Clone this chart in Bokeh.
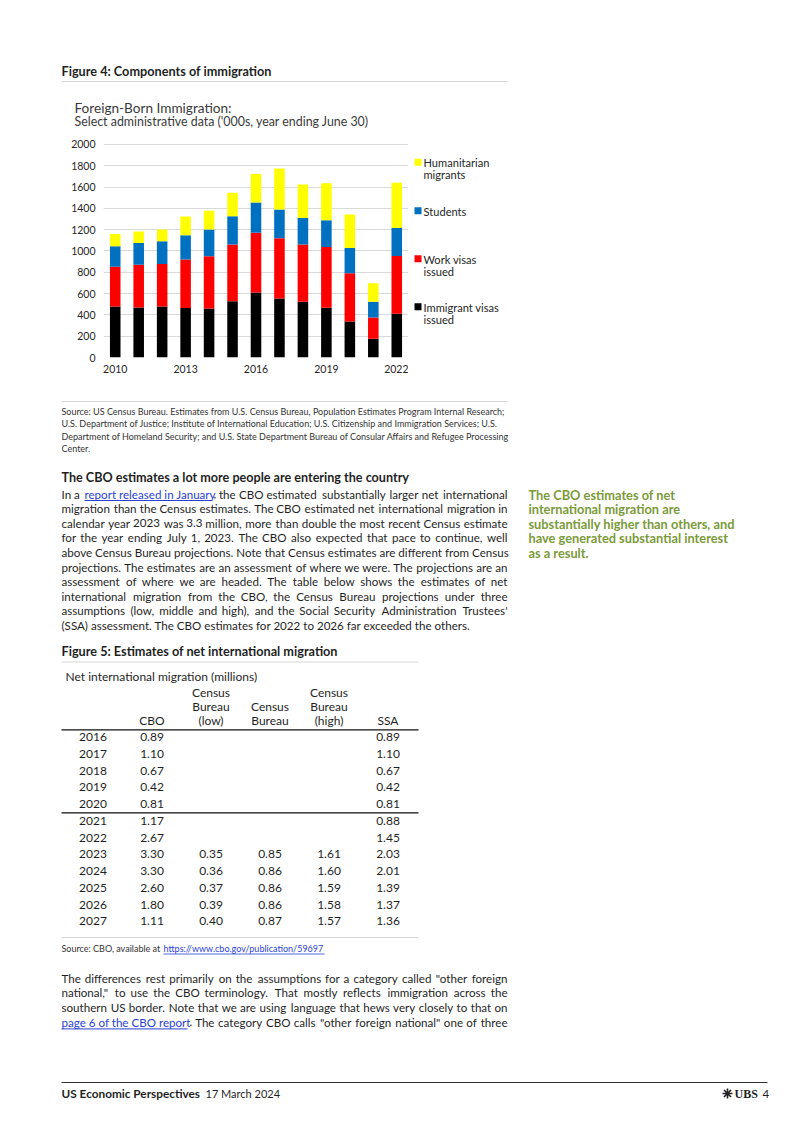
from bokeh.plotting import figure
from bokeh.layouts import column, row
from bokeh.models import Range1d, FixedTicker
from bokeh.core.properties import value
from bokeh.embed import file_html
from bokeh.resources import INLINE

# ---------------- data ----------------
years = [2010, 2011, 2012, 2013, 2014, 2015, 2016, 2017, 2018, 2019, 2020, 2021, 2022]
immigrant_visas = [480, 470, 480, 464, 461, 527, 611, 555, 524, 467, 339, 176, 411]
work_visas = [373, 402, 398, 455, 489, 533, 561, 564, 536, 571, 451, 200, 542]
students = [191, 203, 213, 228, 251, 266, 283, 270, 250, 250, 238, 148, 263]
humanitarian = [116, 107, 110, 176, 178, 220, 269, 385, 314, 348, 314, 172, 424]
series_names = ["Immigrant visas issued", "Work visas issued", "Students", "Humanitarian migrants"]
series_colors = ["#000000", "#FF0000", "#0070C0", "#FFFF00"]
x_ticks = [2010, 2013, 2016, 2019, 2022]
y_ticks = [0, 200, 400, 600, 800, 1000, 1200, 1400, 1600, 1800, 2000]

tbl_years = [2016, 2017, 2018, 2019, 2020, 2021, 2022, 2023, 2024, 2025, 2026, 2027]
tbl_cbo = [0.89, 1.10, 0.67, 0.42, 0.81, 1.17, 2.67, 3.30, 3.30, 2.60, 1.80, 1.11]
tbl_census_low = [None, None, None, None, None, None, None, 0.35, 0.36, 0.37, 0.39, 0.40]
tbl_census = [None, None, None, None, None, None, None, 0.85, 0.86, 0.86, 0.86, 0.87]
tbl_census_high = [None, None, None, None, None, None, None, 1.61, 1.60, 1.59, 1.58, 1.57]
tbl_ssa = [0.89, 1.10, 0.67, 0.42, 0.81, 0.88, 1.45, 2.03, 2.01, 1.39, 1.37, 1.36]
tbl_headers = [["CBO"], ["Census", "Bureau", "(low)"], ["Census", "Bureau"], ["Census", "Bureau", "(high)"], ["SSA"]]

FONT = "Lato"
TXT = "#1f1f1f"
LINK = "#2b3fd6"
GREEN = "#7B9A3A"
LIGHT = "#D6D6D6"
BODY = 11.6

# approximate advance widths (em) used only to spread words of justified lines
_W = {' ': .193, ',': .2, '.': .2, ':': .2, ';': .2, '(': .3, ')': .3, '-': .3, "'": .2, '"': .35}
_W.update(dict(zip("abcdefghijklmnopqrstuvwxyz",
                   [.49, .55, .46, .55, .51, .32, .50, .55, .24, .24, .49, .24, .83, .55, .55, .55, .55,
                    .36, .42, .35, .55, .49, .75, .48, .49, .44])))
_W.update(dict(zip("ABCDEFGHIJKLMNOPQRSTUVWXYZ",
                   [.67, .62, .64, .72, .55, .52, .70, .73, .28, .37, .64, .49, .87, .74, .76, .58, .76,
                    .61, .53, .57, .70, .66, .98, .64, .61, .60])))
_W.update({d: .58 for d in "0123456789"})


def est(s, size):
    return sum(_W.get(c, .5) for c in s) * size * 1.04


def canvas(w, h, x0, x1, y0, y1):
    p = figure(width=w, height=h, x_range=Range1d(x0, x1), y_range=Range1d(y1, y0),
               output_backend="svg", toolbar_location=None, min_border=0,
               x_axis_location=None, y_axis_location=None)
    p.grid.visible = False
    p.outline_line_color = None
    p.background_fill_color = "white"
    p.border_fill_color = "white"
    return p


def txt(p, x, y, s, size, bold=False, color=TXT, align="left", font=FONT):
    p.text(x=[x], y=[y], text=[s], text_font=value(font), text_font_size=value(f"{size}px"),
           text_font_style="bold" if bold else "normal", text_color=color,
           text_align=align, text_baseline="middle")


def justify(p, x0, x1, y, s, size):
    words = s.split(" ")
    ws = [est(w, size) for w in words]
    gap = (x1 - x0 - sum(ws)) / (len(words) - 1)
    if gap < 0.22 * size:
        txt(p, x0, y, s, size)
        return
    half = len(words) // 2
    xs, aligns = [], []
    cur = x0
    for i in range(half):
        xs.append(cur)
        aligns.append("left")
        cur += ws[i] + gap
    right = []
    cur = x1
    for i in range(len(words) - 1, half - 1, -1):
        right.append(cur)
        cur -= ws[i] + gap
    xs += list(reversed(right))
    aligns += ["right"] * (len(words) - half)
    p.text(x=xs, y=[y] * len(words), text=words, text_font=value(FONT),
           text_font_size=value(f"{size}px"), text_color=TXT, text_align=aligns,
           text_baseline="middle")


def hline(p, x0, x1, y, color=LIGHT, width=1):
    p.segment(x0=[x0], y0=[y], x1=[x1], y1=[y], line_color=color, line_width=width)


# ---------------- top block ----------------
top = canvas(786, 136, 0, 786, 0, 136)
txt(top, 61, 70, "Figure 4: Components of immigration", 12.7, bold=True)
hline(top, 61, 507, 81)
txt(top, 74, 107.5, "Foreign-Born Immigration:", 13.6, color="#3a3a3a")
txt(top, 74, 121, "Select administrative data ('000s, year ending June 30)", 12.4, color="#3a3a3a")

# ---------------- chart ----------------
chart = figure(width=408, height=244, x_range=Range1d(2009.5, 2022.5), y_range=Range1d(0, 2075),
               output_backend="svg", toolbar_location=None,
               min_border_left=103, min_border_right=0, min_border_top=0, min_border_bottom=23)
chart.outline_line_color = None
data = dict(year=years)
keys = ["imm", "work", "stud", "hum"]
for k, vals in zip(keys, [immigrant_visas, work_visas, students, humanitarian]):
    data[k] = vals
chart.vbar_stack(keys, x="year", width=0.45, color=series_colors, line_color=None, source=data)
chart.xgrid.visible = False
chart.ygrid.grid_line_color = "#D9D9D9"
chart.ygrid.ticker = FixedTicker(ticks=y_ticks)
chart.xaxis.ticker = FixedTicker(ticks=x_ticks)
chart.yaxis.ticker = FixedTicker(ticks=y_ticks)
for ax in (chart.xaxis, chart.yaxis):
    ax.axis_line_color = None
    ax.major_tick_line_color = None
    ax.minor_tick_line_color = None
    ax.major_tick_out = 0
    ax.major_tick_in = 0
    ax.major_label_text_font = FONT
    ax.major_label_text_font_size = "10.5px"
    ax.major_label_text_color = "#262626"
chart.xaxis.major_label_standoff = 7
chart.yaxis.major_label_standoff = 8

# legend block
leg = canvas(386, 244, 408, 794, 136, 380)
leg_y = [164.5, 218, 271, 324]
leg_cols = list(reversed(series_colors))
leg_lines = [["Humanitarian", "migrants"], ["Students"], ["Work visas", "issued"], ["Immigrant visas", "issued"]]
leg.scatter(x=[417.5] * 4, y=leg_y, marker="square", size=7, color=leg_cols, line_color=None)
for yy, lines in zip(leg_y, leg_lines):
    for i, s in enumerate(lines):
        txt(leg, 423, yy + 0.5 + 13 * i, s, 11.1, color="#262626")

# ---------------- bottom block ----------------
bot = canvas(786, 740, 0, 786, 380, 1120)
hline(bot, 61, 507, 401)
src = ["Source: US Census Bureau. Estimates from U.S. Census Bureau, Population Estimates Program Internal Research;",
       "U.S. Department of Justice; Institute of International Education; U.S. Citizenship and Immigration Services; U.S.",
       "Department of Homeland Security; and U.S. State Department Bureau of Consular Affairs and Refugee Processing",
       "Center."]
for i, s in enumerate(src):
    txt(bot, 61, 411 + 12.3 * i, s, 9, color="#333333")

txt(bot, 61, 477, "The CBO estimates a lot more people are entering the country", 12.6, bold=True)
body = ["migration than the Census estimates. The CBO estimated net international migration in",
        "calendar year 2023 was 3.3 million, more than double the most recent Census estimate",
        "for the year ending July 1, 2023. The CBO also expected that pace to continue, well",
        "above Census Bureau projections. Note that Census estimates are different from Census",
        "projections. The estimates are an assessment of where we were. The projections are an",
        "assessment of where we are headed. The table below shows the estimates of net",
        "international migration from the CBO, the Census Bureau projections under three",
        "assumptions (low, middle and high), and the Social Security Administration Trustees'",
        "(SSA) assessment. The CBO estimates for 2022 to 2026 far exceeded the others."]
y0 = 493.5
lh = 14.6
txt(bot, 61, y0, "In a", BODY)
txt(bot, 84, y0, "report released in January", BODY, color=LINK)
hline(bot, 84, 212, y0 + 6.5, color=LINK, width=1)
justify(bot, 213, 507, y0, ", the CBO estimated substantially larger net international", BODY)
for i, s in enumerate(body):
    yy = y0 + lh * (i + 1)
    if i == len(body) - 1:
        txt(bot, 61, yy, s, BODY)
    else:
        justify(bot, 61, 507, yy, s, BODY)

side = ["The CBO estimates of net", "international migration are", "substantially higher than others, and",
        "have generated substantial interest", "as a result."]
for i, s in enumerate(side):
    txt(bot, 528, 494 + 14.5 * i, s, 12.8, bold=True, color=GREEN)

# table
txt(bot, 61, 650.5, "Figure 5: Estimates of net international migration", 12.7, bold=True)
hline(bot, 61, 418, 661.5)
txt(bot, 65, 676, "Net international migration (millions)", 12)
col_x = [151.5, 210.5, 269.5, 328.5, 387.5]
for cx, hdr in zip(col_x, tbl_headers):
    n = len(hdr)
    for j, s in enumerate(hdr):
        txt(bot, cx, 720 - 14 * (n - 1 - j), s, 12, align="center")
hline(bot, 61, 418, 729.3, color="#111111", width=1.3)
row_y0 = 736.7
row_h = 16.73
cols = [tbl_cbo, tbl_census_low, tbl_census, tbl_census_high, tbl_ssa]
for i, yr in enumerate(tbl_years):
    yy = row_y0 + row_h * i
    txt(bot, 92.5, yy, str(yr), 12, align="center")
    for cx, col in zip(col_x, cols):
        v = col[i]
        if v is not None:
            txt(bot, cx, yy, f"{v:.2f}", 12, align="center")
hline(bot, 61, 418, 812.3, color="#111111", width=1.3)
hline(bot, 61, 418, 937)
txt(bot, 61, 948, "Source: CBO, available at", 9, color="#333333")
txt(bot, 163, 948, "https://www.cbo.gov/publication/59697", 9, color=LINK)
hline(bot, 163, 324, 953.5, color=LINK, width=0.8)

para2 = ["The differences rest primarily on the assumptions for a category called \"other foreign",
         "national,\" to use the CBO terminology. That mostly reflects immigration across the",
         "southern US border. Note that we are using language that hews very closely to that on"]
p2y = 977.5
p2h = 14.8
for i, s in enumerate(para2):
    justify(bot, 61, 507, p2y + p2h * i, s, BODY)
yl = p2y + p2h * 3
txt(bot, 61, yl, "page 6 of the CBO report", BODY, color=LINK)
hline(bot, 61, 187, yl + 6.5, color=LINK, width=1)
justify(bot, 189, 507, yl, ". The category CBO calls \"other foreign national\" one of three", BODY)

# footer
hline(bot, 61, 767, 1082, color="#333333", width=1)
txt(bot, 61, 1093, "US Economic Perspectives", 11.8, bold=True)
txt(bot, 205, 1093, "17 March 2024", 11)
bot.scatter(x=[727], y=[1093], marker="asterisk", size=10, line_color="#222222", line_width=1.6)
txt(bot, 734, 1093, "UBS", 12, bold=True, font="Liberation Serif")
txt(bot, 762, 1093, "4", 11.5)

layout = column(top, row(chart, leg), bot)
open("out.html", "w").write(file_html(layout, INLINE))
